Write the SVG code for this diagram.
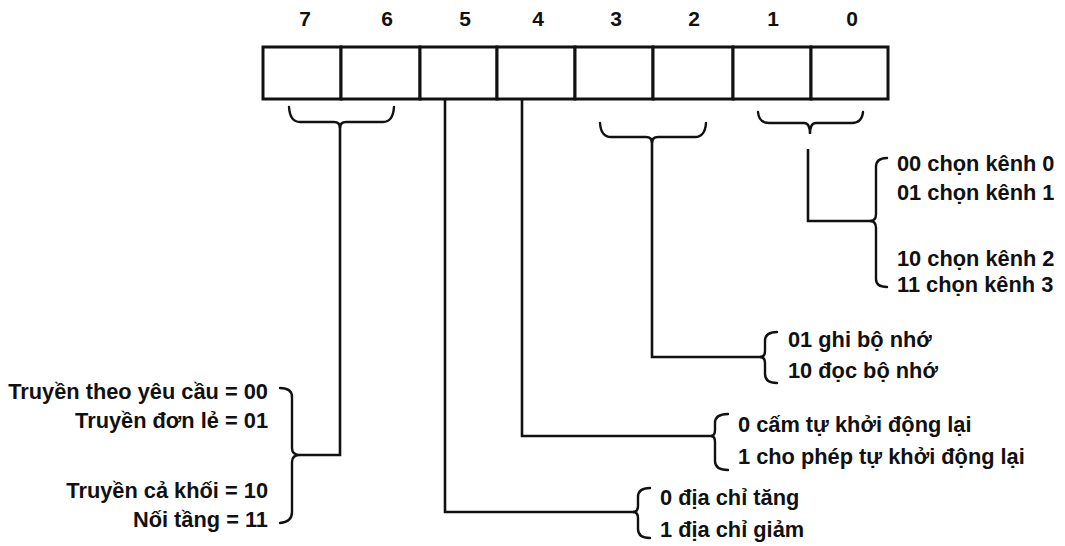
<svg xmlns="http://www.w3.org/2000/svg" width="1065" height="546" viewBox="0 0 1065 546">
<style>
.t{font-family:"Liberation Sans",Arial,sans-serif;font-size:21.8px;font-weight:bold;fill:#111}
.n{font-family:"Liberation Sans",Arial,sans-serif;font-size:21px;font-weight:bold;fill:#111;text-anchor:middle}
.c{fill:none;stroke:#111;stroke-width:2.6;stroke-linejoin:miter}
.b{fill:none;stroke:#111;stroke-width:2.4;stroke-linecap:round}
.cell{fill:#fff;stroke:#111;stroke-width:3}
</style>
<rect width="1065" height="546" fill="#fff"/>
<g id="register">
<rect class="cell" x="263" y="47" width="78" height="52"/>
<rect class="cell" x="341" y="47" width="79" height="52"/>
<rect class="cell" x="420" y="47" width="77" height="52"/>
<rect class="cell" x="497" y="47" width="78" height="52"/>
<rect class="cell" x="575" y="47" width="78" height="52"/>
<rect class="cell" x="653" y="47" width="80" height="52"/>
<rect class="cell" x="733" y="47" width="78" height="52"/>
<rect class="cell" x="811" y="47" width="77" height="52"/>
<text class="n" x="305" y="26">7</text>
<text class="n" x="387" y="26">6</text>
<text class="n" x="465" y="26">5</text>
<text class="n" x="538" y="26">4</text>
<text class="n" x="616" y="26">3</text>
<text class="n" x="694" y="26">2</text>
<text class="n" x="773" y="26">1</text>
<text class="n" x="852" y="26">0</text>
</g>
<g id="connectors">
<path class="b" d="M289,107 Q290,122 300,122 L334,122 Q340,122 340,128 Q340,122 346,122 L383,122 Q393,122 394,107"/>
<path class="b" d="M600,123 Q601,137 611,137 L646,137 Q652,137 652,143 Q652,137 658,137 L695,137 Q705,137 706,123"/>
<path class="b" d="M758,112 Q759,123 769,123 L804,123 Q810,123 810,134 Q810,123 816,123 L852,123 Q862,123 863,112"/>
<path class="c" d="M340,126 L340,455 L300,455"/>
<path class="c" d="M445,99 L445,512 L634,512"/>
<path class="c" d="M522,99 L522,436 L713,436"/>
<path class="c" d="M652,140 L652,357 L762,357"/>
<path class="c" d="M808,149 L808,221 L872,221"/>
</g>
<g id="brace-mode">
<path class="b" d="M280,388 Q292,388 292,397 L292,448 Q292,455 300,455 Q292,455 292,462 L292,512 Q292,522 280,523"/>
<text class="t" x="268" y="399" text-anchor="end">Truyền theo yêu cầu = 00</text>
<text class="t" x="268" y="428" text-anchor="end">Truyền đơn lẻ = 01</text>
<text class="t" x="268" y="498" text-anchor="end">Truyền cả khối = 10</text>
<text class="t" x="268" y="527" text-anchor="end">Nối tầng = 11</text>
</g>
<g id="brace-address">
<path class="b" d="M650,488 Q638,488 638,497 L638,506 Q638,512 633,512 Q638,512 638,518 L638,529 Q638,538 650,538"/>
<text class="t" x="660" y="505">0 địa chỉ tăng</text>
<text class="t" x="660" y="537">1 địa chỉ giảm</text>
</g>
<g id="brace-restart">
<path class="b" d="M728,414 Q715,414 715,423 L715,430 Q715,436 711,436 Q715,436 715,442 L715,461 Q715,470 728,470"/>
<text class="t" x="738" y="432">0 cấm tự khởi động lại</text>
<text class="t" x="738" y="464">1 cho phép tự khởi động lại</text>
</g>
<g id="brace-memory">
<path class="b" d="M777,332 Q765,332 765,341 L765,351 Q765,357 760,357 Q765,357 765,363 L765,374 Q765,383 777,383"/>
<text class="t" x="788" y="347">01 ghi bộ nhớ</text>
<text class="t" x="788" y="378">10 đọc bộ nhớ</text>
</g>
<g id="brace-channel">
<path class="b" d="M887,158 Q876,158 876,167 L876,214 Q876,221 870,221 Q876,221 876,228 L876,279 Q876,287 887,287"/>
<text class="t" x="897" y="171">00 chọn kênh 0</text>
<text class="t" x="897" y="200">01 chọn kênh 1</text>
<text class="t" x="897" y="266">10 chọn kênh 2</text>
<text class="t" x="897" y="292">11 chọn kênh 3</text>
</g>
</svg>
